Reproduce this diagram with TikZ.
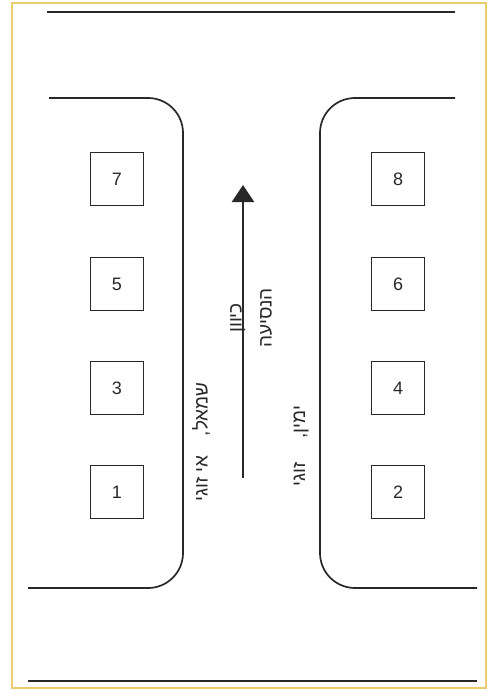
\documentclass[tikz,border=0pt]{standalone}
\usepackage{fontspec}
\setmainfont{Liberation Sans}
\newfontfamily\hebfont[Script=Hebrew]{Liberation Sans}
\TeXXeTstate=1
\usetikzlibrary{arrows.meta,positioning}
\definecolor{framegold}{RGB}{232,204,110}
\definecolor{ink}{RGB}{40,40,40}

\begin{document}
\begin{tikzpicture}[x=1pt,y=-1pt,
  lot/.style={draw=ink,line width=1.4pt,minimum width=53pt,minimum height=53pt,font=\fontsize{18}{18}\selectfont,text=ink},
  curb/.style={draw=ink,line width=1.7pt,rounded corners=35pt},
  sign/.style={rotate=90,font=\hebfont\fontsize{19}{30}\selectfont,text=ink,align=center}]
\useasboundingbox (0,0) rectangle (488,690);
\draw[framegold,line width=1.5pt] (12,3) rectangle (486,688);
\draw[ink,line width=1.7pt] (47,12) -- (455,12);
\draw[ink,line width=1.7pt] (28,681) -- (477,681);
\draw[curb] (49,98) -- (183,98) -- (183,588) -- (28,588);
\draw[curb] (455,98) -- (320,98) -- (320,588) -- (477,588);
\foreach \n/\y in {1/492,3/388,5/284,7/179}
  \node[lot] (p\n) at (117,\y) {\n};
\foreach \n/\y in {2/492,4/388,6/284,8/179}
  \node[lot] (p\n) at (398,\y) {\n};
\coordinate (tail) at (243,478);
\coordinate (head) at (243,185);
\draw[ink,line width=2.2pt,-{Triangle[width=22pt,length=17pt]}] (tail) -- (head);
\node[sign] (dir) at (251,318) {\beginR כיוון\endR\\\beginR הנסיעה\endR};
\node[sign] (left) at (201,442) {\beginR שמאל,\hspace{14pt} אי זוגי\endR};
\node[sign] (right) at (301,446) {\beginR ימין,\hspace{18pt} זוגי\endR};
\end{tikzpicture}
\end{document}
